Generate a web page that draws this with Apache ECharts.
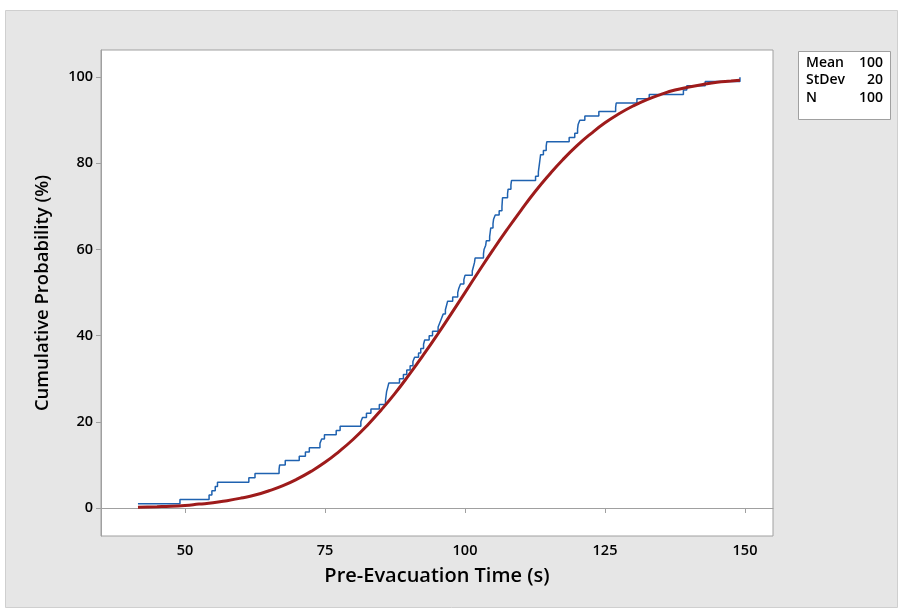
<!DOCTYPE html>
<html>
<head>
<meta charset="utf-8">
<script src="https://cdn.jsdelivr.net/npm/echarts@6/dist/echarts.min.js"></script>
<style>
html,body{margin:0;padding:0;background:#ffffff;}
#chart{width:899px;height:608px;}
</style>
</head>
<body>
<div id="chart"></div>
<script>
// Sorted sample values (empirical CDF steps, each step = 1%)
var sampleTimes = [
  41.6, 49.1, 54.3, 54.8, 55.4, 55.8, 61.4, 62.5, 66.8, 66.9,
  67.9, 70.4, 71.5, 72.2, 74.1, 74.4, 74.9, 77.0, 77.7, 81.4,
  81.7, 82.4, 83.2, 84.7, 85.8, 85.9, 86.0, 86.2, 86.4, 88.3,
  89.0, 89.6, 90.2, 90.7, 91.0, 91.7, 92.1, 92.6, 92.8, 93.6,
  94.2, 95.2, 95.5, 95.8, 96.1, 96.5, 96.7, 96.9, 97.8, 98.7,
  98.9, 99.2, 99.8, 100.0, 101.3, 101.5, 101.7, 101.8, 103.3, 103.4,
  103.7, 103.8, 104.4, 104.5, 104.6, 105.0, 105.1, 105.4, 106.1, 106.6,
  106.65, 106.7, 107.6, 107.7, 108.2, 108.3, 112.6, 113.1, 113.2, 113.3,
  113.4, 113.5, 114.0, 114.5, 114.6, 118.6, 119.6, 120.1, 120.2, 120.5,
  121.4, 123.9, 126.9, 127.0, 130.7, 132.9, 139.0, 139.6, 142.9, 149.1
];
// Cumulative percent at each sorted sample
var samplePercents = [];
for (var i = 0; i < sampleTimes.length; i++) samplePercents.push(i + 1);

// Fitted curve
var fitTimes    = [41.6, 45, 47.5, 50, 52.5, 55, 57.5, 60, 62.5, 65, 67.5, 70, 72.5, 75, 77.5, 80, 82.5, 85, 87.5, 90, 92.5, 95, 97.5, 100,
                   102.5, 105, 107.5, 110, 112.5, 115, 117.5, 120, 122.5, 125, 127.5, 130, 132.5, 135, 137.5, 140, 142.5, 145, 147.5, 149.1];
var fitPercents = [0.2, 0.3, 0.4, 0.6, 0.9, 1.2, 1.7, 2.3, 3.0, 4.0, 5.2, 6.7, 8.5, 10.6, 13.1, 15.9, 19.1, 22.7, 26.6, 30.9, 35.4, 40.1, 45.0, 50.0,
                   55.0, 59.9, 64.6, 69.1, 73.4, 77.3, 80.9, 84.1, 86.9, 89.4, 91.5, 93.3, 94.8, 96.0, 97.0, 97.7, 98.3, 98.8, 99.1, 99.3];

var xTicks = [50, 75, 100, 125, 150];
var yTicks = [0, 20, 40, 60, 80, 100];

var statLabels = ['Mean', 'StDev', 'N'];
var statValues = ['100', '20', '100'];

var xTitle = 'Pre-Evacuation Time (s)';
var yTitle = 'Cumulative Probability (%)';

var FONT = '"Open Sans", "Noto Sans", sans-serif';

var stepData = sampleTimes.map(function (t, k) { return [t, samplePercents[k]]; });
var fitData = fitTimes.map(function (t, k) { return [t, fitPercents[k]]; });

var graphics = [
  { type: 'rect', z: -10, shape: { x: 5.5, y: 10.5, width: 892, height: 597 },
    style: { fill: '#e6e6e6', stroke: '#cfcfcf', lineWidth: 1 } },
  { type: 'rect', z: 10, shape: { x: 798.5, y: 51.5, width: 92, height: 68 },
    style: { fill: '#ffffff', stroke: '#a0a0a0', lineWidth: 1 } }
];
for (var s = 0; s < statLabels.length; s++) {
  graphics.push({ type: 'text', z: 11, left: 806, top: 56 + s * 17.5,
    style: { text: statLabels[s], font: '600 14px ' + FONT, fill: '#000' } });
  graphics.push({ type: 'text', z: 11, right: 899 - 883, top: 56 + s * 17.5,
    style: { text: statValues[s], font: '600 14px ' + FONT, fill: '#000', textAlign: 'right' } });
}

var chart = echarts.init(document.getElementById('chart'), null, { renderer: 'canvas' });
chart.setOption({
  animation: false,
  backgroundColor: 'transparent',
  grid: { left: 101, right: 126, top: 50, bottom: 72, show: true,
          backgroundColor: '#ffffff', borderColor: '#a0a0a0', borderWidth: 1 },
  graphic: graphics,
  xAxis: {
    type: 'value', min: 35, max: 155,
    name: xTitle, nameLocation: 'middle', nameGap: 30,
    nameTextStyle: { fontFamily: FONT, fontSize: 20, fontWeight: 600, color: '#000' },
    axisLine: { show: true, lineStyle: { color: '#a0a0a0' } },
    axisTick: { show: true, length: 5, customValues: xTicks, lineStyle: { color: '#a0a0a0' } },
    axisLabel: { customValues: xTicks, fontFamily: FONT, fontSize: 14.5, fontWeight: 600, color: '#000', margin: 7 },
    splitLine: { show: false }
  },
  yAxis: {
    type: 'value', min: -6.5, max: 106.3,
    name: yTitle, nameLocation: 'middle', nameGap: 49, nameRotate: 90,
    nameTextStyle: { fontFamily: FONT, fontSize: 18.5, fontWeight: 600, color: '#000' },
    axisLine: { show: true, lineStyle: { color: '#a0a0a0' } },
    axisTick: { show: true, length: 5, customValues: yTicks, lineStyle: { color: '#a0a0a0' } },
    axisLabel: { customValues: yTicks, fontFamily: FONT, fontSize: 14.5, fontWeight: 600, color: '#000', margin: 8 },
    splitLine: { show: false }
  },
  series: [
    { type: 'line', data: stepData, step: 'end', showSymbol: false, symbol: 'none',
      lineStyle: { color: '#1f62b0', width: 1.5 }, z: 2 },
    { type: 'line', data: fitData, smooth: true, showSymbol: false, symbol: 'none',
      lineStyle: { color: '#9e1b1b', width: 3 }, z: 3 }
  ]
});
</script>
</body>
</html>
